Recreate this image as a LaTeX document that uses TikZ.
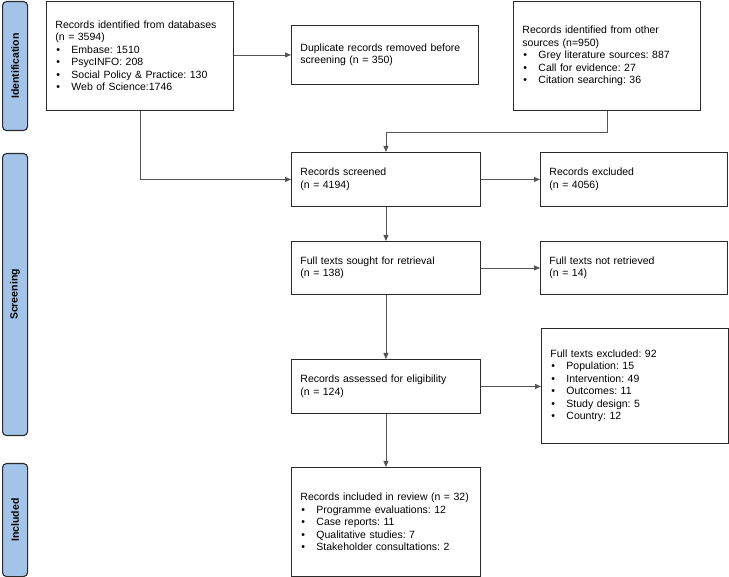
\documentclass[tikz,border=0pt]{standalone}
\usepackage{fontspec}
\setmainfont{Liberation Sans}
\usetikzlibrary{arrows.meta}
\definecolor{barfill}{HTML}{A3C4E8}
\definecolor{edgecol}{HTML}{2B2B2B}
\definecolor{conncol}{HTML}{555555}
\newcommand\itm[1]{\makebox[16pt][l]{\hspace{1pt}\textbullet}#1}
\tikzset{
  box/.style={draw=edgecol, line width=0.9pt, inner sep=0pt, anchor=north west, align=left,
    font=\fontsize{10.5}{12.5}\selectfont\frenchspacing},
  phase/.style={draw=edgecol, fill=barfill, line width=1.1pt, rounded corners=4pt,
    anchor=north west, inner sep=0pt, minimum width=25pt},
  phaselabel/.style={rotate=90, font=\bfseries\fontsize{10.5}{12.5}\selectfont},
  conn/.style={draw=conncol, line width=0.8pt, -{Triangle[length=6pt,width=5pt]}}
}
\begin{document}
\begin{tikzpicture}[x=1pt,y=-1pt]
\useasboundingbox (0,0) rectangle (729,577);
% phase bars
\node[phase, minimum height=129pt] (pid) at (2,1) {};
\node[phase, minimum height=282pt] (psc) at (2,153) {};
\node[phase, minimum height=113pt] (pin) at (2,463) {};
\node[phaselabel] (lid) at (pid.center) {Identification};
\node[phaselabel] (lsc) at (psc.center) {Screening};
\node[phaselabel] (lin) at (pin.center) {Included};
% boxes
\node[box, minimum width=187pt, minimum height=109pt, text width=169pt] (db) at (46,1)
 {Records identified from databases\\(n = 3594)\\\itm{Embase: 1510}\\\itm{PsycINFO: 208}\\\itm{Social Policy \& Practice: 130}\\\itm{Web of Science:1746}};
\node[box, minimum width=187pt, minimum height=59pt, text width=169pt] (dup) at (291,25)
 {Duplicate records removed before\\screening (n = 350)};
\node[box, minimum width=187pt, minimum height=109pt, text width=169pt] (oth) at (513,1)
 {Records identified from other\\sources (n=950)\\\itm{Grey literature sources: 887}\\\itm{Call for evidence: 27}\\\itm{Citation searching: 36}};
\node[box, minimum width=189pt, minimum height=54pt, text width=171pt] (scr) at (291,152)
 {Records screened\\(n = 4194)};
\node[box, minimum width=187pt, minimum height=54pt, text width=169pt] (exc) at (540,152)
 {Records excluded\\(n = 4056)};
\node[box, minimum width=189pt, minimum height=53pt, text width=171pt] (sou) at (291,241)
 {Full texts sought for retrieval\\(n = 138)};
\node[box, minimum width=187pt, minimum height=53pt, text width=169pt] (nrt) at (540,241)
 {Full texts not retrieved\\(n = 14)};
\node[box, minimum width=189pt, minimum height=54pt, text width=171pt] (ass) at (291,359)
 {Records assessed for eligibility\\(n = 124)};
\node[box, minimum width=187pt, minimum height=115pt, text width=169pt] (fex) at (541,328)
 {Full texts excluded: 92\\\itm{Population: 15}\\\itm{Intervention: 49}\\\itm{Outcomes: 11}\\\itm{Study design: 5}\\\itm{Country: 12}};
\node[box, minimum width=189pt, minimum height=109pt, text width=171pt] (inc) at (291,467)
 {Records included in review (n = 32)\\\itm{Programme evaluations: 12}\\\itm{Case reports: 11}\\\itm{Qualitative studies: 7}\\\itm{Stakeholder consultations: 2}};
% connectors
\draw[conn] (db.east |- dup.west) -- (dup.west);
\draw[conn] (db.south) |- (scr.west);
\draw[conn] (oth.south) -- ++(0,22) -| (scr.north);
\draw[conn] (scr.east) -- (scr.east -| exc.west);
\draw[conn] (scr.south) -- (sou.north);
\draw[conn] (sou.east) -- (sou.east -| nrt.west);
\draw[conn] (sou.south) -- (ass.north);
\draw[conn] (ass.east) -- (ass.east -| fex.west);
\draw[conn] (ass.south) -- (inc.north);
\end{tikzpicture}
\end{document}
